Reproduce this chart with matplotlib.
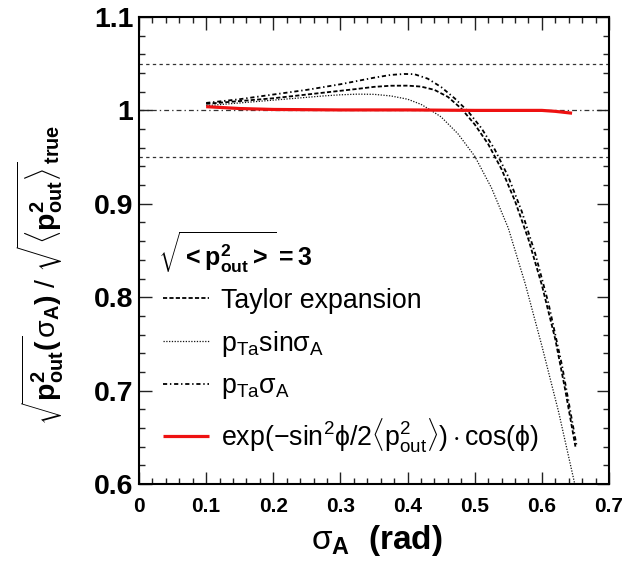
import matplotlib
matplotlib.use("Agg")
import matplotlib.pyplot as plt
from matplotlib.ticker import MultipleLocator, FixedLocator

plt.rcParams['font.family'] = ['Liberation Sans', 'DejaVu Sans']
plt.rcParams['mathtext.fontset'] = 'custom'
plt.rcParams['mathtext.rm'] = 'Liberation Sans'
plt.rcParams['mathtext.it'] = 'Liberation Sans:italic'
plt.rcParams['mathtext.bf'] = 'Liberation Sans:bold'
plt.rcParams['mathtext.sf'] = 'Liberation Sans'
plt.rcParams['lines.scale_dashes'] = False

# ---- data ----
sig_sin = [0.10, 0.125, 0.15, 0.175, 0.20, 0.225, 0.25, 0.275, 0.30, 0.325, 0.35, 0.375,
           0.40, 0.42, 0.435, 0.45, 0.475, 0.50, 0.525, 0.55, 0.575, 0.60, 0.625, 0.649]
val_sin = [1.005, 1.0065, 1.008, 1.0095, 1.011, 1.0125, 1.014, 1.0155, 1.0167, 1.0174, 1.0172, 1.0155,
           1.012, 1.0065, 1.000, 0.993, 0.975, 0.951, 0.917, 0.874, 0.815, 0.748, 0.677, 0.600]

sig_taylor = [0.10, 0.125, 0.15, 0.175, 0.20, 0.225, 0.25, 0.275, 0.30, 0.325, 0.35, 0.375,
              0.40, 0.42, 0.44, 0.46, 0.48, 0.50, 0.52, 0.54, 0.56, 0.58, 0.60, 0.62, 0.635, 0.650]
val_taylor = [1.007, 1.0085, 1.010, 1.0115, 1.013, 1.015, 1.017, 1.019, 1.021, 1.023, 1.0252, 1.0264,
              1.0265, 1.0255, 1.022, 1.0145, 1.002, 0.985, 0.964, 0.937, 0.903, 0.862, 0.813, 0.755, 0.700, 0.640]

sig_lin = [0.10, 0.125, 0.15, 0.175, 0.20, 0.225, 0.25, 0.275, 0.30, 0.325, 0.35, 0.375,
           0.395, 0.41, 0.43, 0.45, 0.47, 0.49, 0.51, 0.53, 0.55, 0.57, 0.59, 0.61, 0.63, 0.652]
val_lin = [1.008, 1.010, 1.012, 1.0145, 1.017, 1.0195, 1.022, 1.025, 1.028, 1.0315, 1.035, 1.038,
           1.039, 1.0388, 1.034, 1.025, 1.013, 0.999, 0.981, 0.958, 0.929, 0.892, 0.847, 0.793, 0.727, 0.640]

sig_exp = [0.10, 0.15, 0.20, 0.30, 0.40, 0.50, 0.60, 0.62, 0.645]
val_exp = [1.004, 1.002, 1.001, 1.0005, 1.0005, 1.000, 1.000, 0.999, 0.997]

ref_levels = [1.05, 1.00, 0.95]

xtick_vals = [0, 0.1, 0.2, 0.3, 0.4, 0.5, 0.6, 0.7]
xtick_labels = ["0", "0.1", "0.2", "0.3", "0.4", "0.5", "0.6", "0.7"]
ytick_vals = [0.6, 0.7, 0.8, 0.9, 1.0, 1.1]
ytick_labels = ["0.6", "0.7", "0.8", "0.9", "1", "1.1"]

labels = ["Taylor expansion",
          r"$\mathrm{p_{Ta}sin}$σ$_{\mathrm{A}}$",
          r"$\mathrm{p_{Ta}}$σ$_{\mathrm{A}}$",
          r"$\mathrm{exp(-sin^{2}\phi/2\langle p^{2}_{out}\rangle)\cdot cos(\phi)}$"]

# ---- figure ----
fig = plt.figure(figsize=(6.29, 5.69), dpi=100)
ax = fig.add_axes([139/629, 1-484/569, 470/629, 467/569])

ref_styles = [(0, (2.4, 2.4)), (0, (3.5, 2.2, 1.0, 2.2)), (0, (2.4, 2.4))]
for lev, ls in zip(ref_levels, ref_styles):
    ax.axhline(lev, color='#333333', lw=0.9, ls=ls, zorder=1)

l1, = ax.plot(sig_taylor, val_taylor, color='black', lw=1.3, ls=(0, (3.0, 1.6)))
l2, = ax.plot(sig_sin, val_sin, color='#111111', lw=0.9, ls=(0, (0.9, 1.1)))
l3, = ax.plot(sig_lin, val_lin, color='black', lw=1.3, ls=(0, (3.0, 2.0, 1.0, 2.0)))
l4, = ax.plot(sig_exp, val_exp, color='#ee1111', lw=2.3, solid_capstyle='butt')

ax.set_xlim(0, 0.7)
ax.set_ylim(0.6, 1.1)
ax.xaxis.set_major_locator(FixedLocator(xtick_vals))
ax.set_xticklabels(xtick_labels)
ax.yaxis.set_major_locator(FixedLocator(ytick_vals))
ax.set_yticklabels(ytick_labels)
ax.xaxis.set_minor_locator(MultipleLocator(0.02))
ax.yaxis.set_minor_locator(MultipleLocator(0.02))
ax.tick_params(which='both', direction='in', top=True, right=True, width=1.0, color='#222222')
ax.tick_params(which='major', length=9)
ax.tick_params(which='minor', length=4.5)
ax.tick_params(axis='x', which='major', labelsize=15, pad=9)
ax.tick_params(axis='y', which='major', labelsize=20.5, pad=4)
for lab in ax.get_xticklabels() + ax.get_yticklabels():
    lab.set_fontweight('bold')
for sp in ax.spines.values():
    sp.set_linewidth(1.5)

fig.text(377/629, 1-541/569, r"σ$_{\mathbf{A}}$  $\mathbf{(rad)}$", fontsize=24,
         ha='center', va='center')
fig.text(40/629, 1-275/569,
         r"$\mathbf{\sqrt{p^{2}_{out}(}}$σ$_{\mathbf{A}}\mathbf{)}$ / $\mathbf{\sqrt{\langle p^{2}_{out}\rangle}_{true}}$",
         fontsize=20.5, rotation=90, ha='center', va='center')

ax.text(0.04, 0.495, r"$\mathbf{\sqrt{<p^{2}_{out}>} = 3}$", transform=ax.transAxes,
        fontsize=18, ha='left', va='center')

leg = ax.legend([l1, l2, l3, l4], labels, loc='upper left', bbox_to_anchor=(0.05, 0.42),
                frameon=False, fontsize=19.3, handlelength=1.75, handletextpad=0.45,
                labelspacing=0.55, borderaxespad=0, borderpad=0)

fig.savefig("out.png", dpi=100)
